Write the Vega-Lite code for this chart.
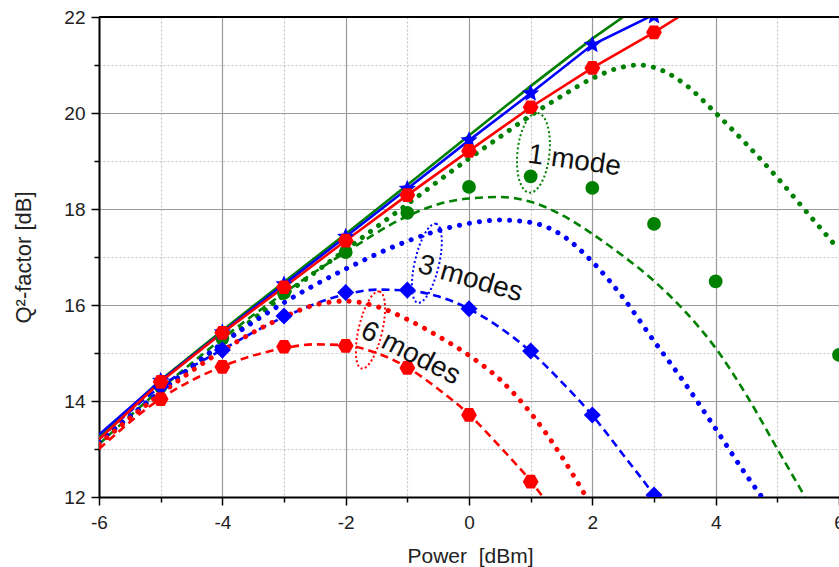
{
  "$schema": "https://vega.github.io/schema/vega-lite/v6.json",
  "width": 740,
  "height": 480,
  "autosize": {"type": "none"},
  "padding": {"left": 99, "top": 17, "right": 0, "bottom": 70},
  "background": "white",
  "config": {"view": {"stroke": null}, "font": "Liberation Sans"},
  "datasets": {
    "curves": [
      {"modes": "1 mode", "kind": "solid", "x": -6, "y": 13.25},
      {"modes": "1 mode", "kind": "solid", "x": -5, "y": 14.44},
      {"modes": "1 mode", "kind": "solid", "x": -4, "y": 15.47},
      {"modes": "1 mode", "kind": "solid", "x": -3, "y": 16.48},
      {"modes": "1 mode", "kind": "solid", "x": -2, "y": 17.48},
      {"modes": "1 mode", "kind": "solid", "x": -1, "y": 18.5},
      {"modes": "1 mode", "kind": "solid", "x": 0, "y": 19.53},
      {"modes": "1 mode", "kind": "solid", "x": 1, "y": 20.56},
      {"modes": "1 mode", "kind": "solid", "x": 2, "y": 21.55},
      {"modes": "1 mode", "kind": "solid", "x": 2.5, "y": 22.0},
      {"modes": "3 modes", "kind": "solid", "x": -6, "y": 13.3},
      {"modes": "3 modes", "kind": "solid", "x": -5, "y": 14.42},
      {"modes": "3 modes", "kind": "solid", "x": -4, "y": 15.43},
      {"modes": "3 modes", "kind": "solid", "x": -3, "y": 16.43},
      {"modes": "3 modes", "kind": "solid", "x": -2, "y": 17.42},
      {"modes": "3 modes", "kind": "solid", "x": -1, "y": 18.42},
      {"modes": "3 modes", "kind": "solid", "x": 0, "y": 19.43},
      {"modes": "3 modes", "kind": "solid", "x": 1, "y": 20.41},
      {"modes": "3 modes", "kind": "solid", "x": 2, "y": 21.42},
      {"modes": "3 modes", "kind": "solid", "x": 3, "y": 22.05},
      {"modes": "6 modes", "kind": "solid", "x": -6, "y": 13.2},
      {"modes": "6 modes", "kind": "solid", "x": -5, "y": 14.4},
      {"modes": "6 modes", "kind": "solid", "x": -4, "y": 15.42},
      {"modes": "6 modes", "kind": "solid", "x": -3, "y": 16.37},
      {"modes": "6 modes", "kind": "solid", "x": -2, "y": 17.34},
      {"modes": "6 modes", "kind": "solid", "x": -1, "y": 18.29},
      {"modes": "6 modes", "kind": "solid", "x": 0, "y": 19.21},
      {"modes": "6 modes", "kind": "solid", "x": 1, "y": 20.12},
      {"modes": "6 modes", "kind": "solid", "x": 2, "y": 20.94},
      {"modes": "6 modes", "kind": "solid", "x": 3, "y": 21.68},
      {"modes": "6 modes", "kind": "solid", "x": 3.4, "y": 22.0},

      {"modes": "1 mode", "kind": "dashed", "x": -6, "y": 13.1},
      {"modes": "1 mode", "kind": "dashed", "x": -5, "y": 14.25},
      {"modes": "1 mode", "kind": "dashed", "x": -4, "y": 15.3},
      {"modes": "1 mode", "kind": "dashed", "x": -3, "y": 16.25},
      {"modes": "1 mode", "kind": "dashed", "x": -2, "y": 17.1},
      {"modes": "1 mode", "kind": "dashed", "x": -1, "y": 17.85},
      {"modes": "1 mode", "kind": "dashed", "x": -0.5, "y": 18.1},
      {"modes": "1 mode", "kind": "dashed", "x": 0, "y": 18.22},
      {"modes": "1 mode", "kind": "dashed", "x": 0.5, "y": 18.25},
      {"modes": "1 mode", "kind": "dashed", "x": 1, "y": 18.15},
      {"modes": "1 mode", "kind": "dashed", "x": 1.5, "y": 17.88},
      {"modes": "1 mode", "kind": "dashed", "x": 2, "y": 17.48},
      {"modes": "1 mode", "kind": "dashed", "x": 2.5, "y": 17.02},
      {"modes": "1 mode", "kind": "dashed", "x": 3, "y": 16.5},
      {"modes": "1 mode", "kind": "dashed", "x": 3.5, "y": 15.87},
      {"modes": "1 mode", "kind": "dashed", "x": 4, "y": 15.1},
      {"modes": "1 mode", "kind": "dashed", "x": 4.5, "y": 14.12},
      {"modes": "1 mode", "kind": "dashed", "x": 5, "y": 13.0},
      {"modes": "1 mode", "kind": "dashed", "x": 5.45, "y": 12.0},
      {"modes": "3 modes", "kind": "dashed", "x": -6, "y": 13.2},
      {"modes": "3 modes", "kind": "dashed", "x": -5, "y": 14.3},
      {"modes": "3 modes", "kind": "dashed", "x": -4, "y": 15.07},
      {"modes": "3 modes", "kind": "dashed", "x": -3, "y": 15.75},
      {"modes": "3 modes", "kind": "dashed", "x": -2, "y": 16.22},
      {"modes": "3 modes", "kind": "dashed", "x": -1.5, "y": 16.32},
      {"modes": "3 modes", "kind": "dashed", "x": -1, "y": 16.3},
      {"modes": "3 modes", "kind": "dashed", "x": -0.5, "y": 16.18},
      {"modes": "3 modes", "kind": "dashed", "x": 0, "y": 15.92},
      {"modes": "3 modes", "kind": "dashed", "x": 0.5, "y": 15.53},
      {"modes": "3 modes", "kind": "dashed", "x": 1, "y": 15.03},
      {"modes": "3 modes", "kind": "dashed", "x": 1.5, "y": 14.4},
      {"modes": "3 modes", "kind": "dashed", "x": 2, "y": 13.7},
      {"modes": "3 modes", "kind": "dashed", "x": 2.5, "y": 12.88},
      {"modes": "3 modes", "kind": "dashed", "x": 3, "y": 12.04},
      {"modes": "3 modes", "kind": "dashed", "x": 3.05, "y": 11.95},
      {"modes": "6 modes", "kind": "dashed", "x": -6, "y": 13.0},
      {"modes": "6 modes", "kind": "dashed", "x": -5, "y": 14.05},
      {"modes": "6 modes", "kind": "dashed", "x": -4, "y": 14.72},
      {"modes": "6 modes", "kind": "dashed", "x": -3, "y": 15.1},
      {"modes": "6 modes", "kind": "dashed", "x": -2.5, "y": 15.18},
      {"modes": "6 modes", "kind": "dashed", "x": -2, "y": 15.16},
      {"modes": "6 modes", "kind": "dashed", "x": -1.5, "y": 15.0},
      {"modes": "6 modes", "kind": "dashed", "x": -1, "y": 14.7},
      {"modes": "6 modes", "kind": "dashed", "x": -0.5, "y": 14.25},
      {"modes": "6 modes", "kind": "dashed", "x": 0, "y": 13.72},
      {"modes": "6 modes", "kind": "dashed", "x": 0.5, "y": 13.05},
      {"modes": "6 modes", "kind": "dashed", "x": 1, "y": 12.33},
      {"modes": "6 modes", "kind": "dashed", "x": 1.2, "y": 12.0},

      {"modes": "1 mode", "kind": "dotted", "x": -6, "y": 13.15},
      {"modes": "1 mode", "kind": "dotted", "x": -5, "y": 14.2},
      {"modes": "1 mode", "kind": "dotted", "x": -4, "y": 15.2},
      {"modes": "1 mode", "kind": "dotted", "x": -3, "y": 16.2},
      {"modes": "1 mode", "kind": "dotted", "x": -2, "y": 17.15},
      {"modes": "1 mode", "kind": "dotted", "x": -1, "y": 18.1},
      {"modes": "1 mode", "kind": "dotted", "x": 0, "y": 19.05},
      {"modes": "1 mode", "kind": "dotted", "x": 0.5, "y": 19.5},
      {"modes": "1 mode", "kind": "dotted", "x": 1, "y": 19.95},
      {"modes": "1 mode", "kind": "dotted", "x": 1.5, "y": 20.35},
      {"modes": "1 mode", "kind": "dotted", "x": 2, "y": 20.72},
      {"modes": "1 mode", "kind": "dotted", "x": 2.5, "y": 20.96},
      {"modes": "1 mode", "kind": "dotted", "x": 2.75, "y": 21.0},
      {"modes": "1 mode", "kind": "dotted", "x": 3, "y": 20.95},
      {"modes": "1 mode", "kind": "dotted", "x": 3.5, "y": 20.6},
      {"modes": "1 mode", "kind": "dotted", "x": 4, "y": 20.0},
      {"modes": "1 mode", "kind": "dotted", "x": 4.5, "y": 19.35},
      {"modes": "1 mode", "kind": "dotted", "x": 5, "y": 18.65},
      {"modes": "1 mode", "kind": "dotted", "x": 5.5, "y": 17.9},
      {"modes": "1 mode", "kind": "dotted", "x": 6, "y": 17.15},
      {"modes": "3 modes", "kind": "dotted", "x": -6, "y": 13.15},
      {"modes": "3 modes", "kind": "dotted", "x": -5, "y": 14.2},
      {"modes": "3 modes", "kind": "dotted", "x": -4, "y": 15.2},
      {"modes": "3 modes", "kind": "dotted", "x": -3, "y": 16.05},
      {"modes": "3 modes", "kind": "dotted", "x": -2, "y": 16.75},
      {"modes": "3 modes", "kind": "dotted", "x": -1, "y": 17.33},
      {"modes": "3 modes", "kind": "dotted", "x": -0.5, "y": 17.55},
      {"modes": "3 modes", "kind": "dotted", "x": 0, "y": 17.7},
      {"modes": "3 modes", "kind": "dotted", "x": 0.5, "y": 17.77},
      {"modes": "3 modes", "kind": "dotted", "x": 1, "y": 17.72},
      {"modes": "3 modes", "kind": "dotted", "x": 1.5, "y": 17.46},
      {"modes": "3 modes", "kind": "dotted", "x": 2, "y": 16.9},
      {"modes": "3 modes", "kind": "dotted", "x": 2.5, "y": 16.15},
      {"modes": "3 modes", "kind": "dotted", "x": 3, "y": 15.25},
      {"modes": "3 modes", "kind": "dotted", "x": 3.5, "y": 14.37},
      {"modes": "3 modes", "kind": "dotted", "x": 4, "y": 13.42},
      {"modes": "3 modes", "kind": "dotted", "x": 4.5, "y": 12.45},
      {"modes": "3 modes", "kind": "dotted", "x": 4.75, "y": 12.0},
      {"modes": "6 modes", "kind": "dotted", "x": -6, "y": 13.1},
      {"modes": "6 modes", "kind": "dotted", "x": -5, "y": 14.15},
      {"modes": "6 modes", "kind": "dotted", "x": -4, "y": 15.05},
      {"modes": "6 modes", "kind": "dotted", "x": -3, "y": 15.75},
      {"modes": "6 modes", "kind": "dotted", "x": -2.5, "y": 16.0},
      {"modes": "6 modes", "kind": "dotted", "x": -2, "y": 16.08},
      {"modes": "6 modes", "kind": "dotted", "x": -1.5, "y": 15.97},
      {"modes": "6 modes", "kind": "dotted", "x": -1, "y": 15.7},
      {"modes": "6 modes", "kind": "dotted", "x": -0.5, "y": 15.35},
      {"modes": "6 modes", "kind": "dotted", "x": 0, "y": 14.95},
      {"modes": "6 modes", "kind": "dotted", "x": 0.5, "y": 14.45},
      {"modes": "6 modes", "kind": "dotted", "x": 1, "y": 13.75},
      {"modes": "6 modes", "kind": "dotted", "x": 1.5, "y": 12.85},
      {"modes": "6 modes", "kind": "dotted", "x": 1.9, "y": 12.0}
    ],
    "points": [
      {"modes": "1 mode", "kind": "measured", "x": -5, "y": 14.3},
      {"modes": "1 mode", "kind": "measured", "x": -4, "y": 15.3},
      {"modes": "1 mode", "kind": "measured", "x": -3, "y": 16.25},
      {"modes": "1 mode", "kind": "measured", "x": -2, "y": 17.1},
      {"modes": "1 mode", "kind": "measured", "x": -1, "y": 17.92},
      {"modes": "1 mode", "kind": "measured", "x": 0, "y": 18.46},
      {"modes": "1 mode", "kind": "measured", "x": 1, "y": 18.68},
      {"modes": "1 mode", "kind": "measured", "x": 2, "y": 18.44},
      {"modes": "1 mode", "kind": "measured", "x": 3, "y": 17.69},
      {"modes": "1 mode", "kind": "measured", "x": 4, "y": 16.49},
      {"modes": "1 mode", "kind": "measured", "x": 6, "y": 14.96},
      {"modes": "3 modes", "kind": "measured", "x": -5, "y": 14.3},
      {"modes": "3 modes", "kind": "measured", "x": -4, "y": 15.06},
      {"modes": "3 modes", "kind": "measured", "x": -3, "y": 15.77},
      {"modes": "3 modes", "kind": "measured", "x": -2, "y": 16.26},
      {"modes": "3 modes", "kind": "measured", "x": -1, "y": 16.31},
      {"modes": "3 modes", "kind": "measured", "x": 0, "y": 15.92},
      {"modes": "3 modes", "kind": "measured", "x": 1, "y": 15.04},
      {"modes": "3 modes", "kind": "measured", "x": 2, "y": 13.71},
      {"modes": "3 modes", "kind": "measured", "x": 3, "y": 12.04},
      {"modes": "3 modes", "kind": "b2b", "x": -5, "y": 14.42},
      {"modes": "3 modes", "kind": "b2b", "x": -4, "y": 15.43},
      {"modes": "3 modes", "kind": "b2b", "x": -3, "y": 16.43},
      {"modes": "3 modes", "kind": "b2b", "x": -2, "y": 17.42},
      {"modes": "3 modes", "kind": "b2b", "x": -1, "y": 18.42},
      {"modes": "3 modes", "kind": "b2b", "x": 0, "y": 19.43},
      {"modes": "3 modes", "kind": "b2b", "x": 1, "y": 20.41},
      {"modes": "3 modes", "kind": "b2b", "x": 2, "y": 21.42},
      {"modes": "3 modes", "kind": "b2b", "x": 3, "y": 22.02},
      {"modes": "6 modes", "kind": "b2b", "x": -5, "y": 14.4},
      {"modes": "6 modes", "kind": "b2b", "x": -4, "y": 15.42},
      {"modes": "6 modes", "kind": "b2b", "x": -3, "y": 16.37},
      {"modes": "6 modes", "kind": "b2b", "x": -2, "y": 17.34},
      {"modes": "6 modes", "kind": "b2b", "x": -1, "y": 18.29},
      {"modes": "6 modes", "kind": "b2b", "x": 0, "y": 19.21},
      {"modes": "6 modes", "kind": "b2b", "x": 1, "y": 20.12},
      {"modes": "6 modes", "kind": "b2b", "x": 2, "y": 20.94},
      {"modes": "6 modes", "kind": "b2b", "x": 3, "y": 21.68},
      {"modes": "6 modes", "kind": "measured", "x": -5, "y": 14.04},
      {"modes": "6 modes", "kind": "measured", "x": -4, "y": 14.71},
      {"modes": "6 modes", "kind": "measured", "x": -3, "y": 15.13},
      {"modes": "6 modes", "kind": "measured", "x": -2, "y": 15.15},
      {"modes": "6 modes", "kind": "measured", "x": -1, "y": 14.69},
      {"modes": "6 modes", "kind": "measured", "x": 0, "y": 13.71},
      {"modes": "6 modes", "kind": "measured", "x": 1, "y": 12.32}
    ],
    "labels": [
      {"label": "1 mode", "x": 1.71, "y": 19.0},
      {"label": "3 modes", "x": 0.02, "y": 16.54},
      {"label": "6 modes", "x": -0.95, "y": 14.99}
    ],
    "ellipses": [
      {"modes": "1 mode", "x": 1.045, "y": 19.17},
      {"modes": "3 modes", "x": -0.683, "y": 16.87},
      {"modes": "6 modes", "x": -1.598, "y": 15.48}
    ],
    "frame": [
      {"x": -6, "y": 22},
      {"x": 6, "y": 22}
    ]
  },
  "encoding": {
    "x": {
      "field": "x", "type": "quantitative",
      "scale": {"domain": [-6, 6], "nice": false, "zero": false},
      "axis": {
        "values": [-6, -5, -4, -3, -2, -1, 0, 1, 2, 3, 4, 5, 6],
        "labelExpr": "datum.value % 2 === 0 ? '' + datum.value : ''",
        "labelFlush": false, "labelOverlap": false,
        "grid": true,
        "gridColor": {"condition": {"test": "datum.value % 2 !== 0", "value": "#c4c4c4"}, "value": "#9a9a9a"},
        "gridDash": {"condition": {"test": "datum.value % 2 !== 0", "value": [2, 2]}, "value": []},
        "gridWidth": 1.2,
        "domainColor": "#000000", "domainWidth": 2,
        "tickColor": "#000000", "tickWidth": 1.5,
        "tickSize": {"condition": {"test": "datum.value % 2 !== 0", "value": 5}, "value": 8},
        "labelFontSize": 19, "labelColor": "#222222", "labelPadding": 8,
        "title": "Power\u00a0 [dBm]", "titleFontSize": 21, "titleFontWeight": "normal", "titleColor": "#222222",
        "titleX": 371, "titleY": 65, "titleBaseline": "alphabetic", "titleAlign": "center"
      }
    },
    "y": {
      "field": "y", "type": "quantitative",
      "scale": {"domain": [12, 22], "nice": false, "zero": false},
      "axis": {
        "values": [12, 13, 14, 15, 16, 17, 18, 19, 20, 21, 22],
        "labelExpr": "datum.value % 2 === 0 ? '' + datum.value : ''",
        "labelFlush": false, "labelOverlap": false,
        "grid": true,
        "gridColor": {"condition": {"test": "datum.value % 2 !== 0", "value": "#c4c4c4"}, "value": "#9a9a9a"},
        "gridDash": {"condition": {"test": "datum.value % 2 !== 0", "value": [2, 2]}, "value": []},
        "gridWidth": 1.2,
        "domainColor": "#000000", "domainWidth": 2,
        "tickColor": "#000000", "tickWidth": 1.5,
        "tickSize": {"condition": {"test": "datum.value % 2 !== 0", "value": 5}, "value": 8},
        "labelFontSize": 19, "labelColor": "#222222", "labelPadding": 6,
        "title": "Q²-factor [dB]", "titleFontSize": 22, "titleFontWeight": "normal", "titleColor": "#222222",
        "titleX": -69, "titleY": 240, "titleAngle": -90, "titleBaseline": "alphabetic", "titleAlign": "center"
      }
    },
    "color": {
      "field": "modes", "type": "nominal",
      "scale": {"domain": ["1 mode", "3 modes", "6 modes"], "range": ["#008000", "#0000ff", "#ff0000"]},
      "legend": null
    }
  },
  "layer": [
    {
      "data": {"name": "curves"},
      "transform": [{"filter": "datum.kind === 'dashed'"}],
      "mark": {"type": "line", "clip": true, "interpolate": "monotone", "strokeWidth": 2.6, "strokeDash": [8, 5]}
    },
    {
      "data": {"name": "curves"},
      "transform": [{"filter": "datum.kind === 'dotted'"}],
      "mark": {"type": "line", "clip": true, "interpolate": "monotone", "strokeWidth": 5, "strokeDash": [0.1, 10], "strokeCap": "round"}
    },
    {
      "data": {"name": "curves"},
      "transform": [{"filter": "datum.kind === 'solid'"}],
      "mark": {"type": "line", "clip": true, "interpolate": "linear", "strokeWidth": 2.6}
    },
    {
      "data": {"name": "points"},
      "transform": [{"filter": "datum.modes === '1 mode'"}],
      "mark": {"type": "point", "clip": true, "shape": "circle", "filled": true, "opacity": 1, "size": 190}
    },
    {
      "data": {"name": "points"},
      "transform": [{"filter": "datum.modes === '3 modes' && datum.kind === 'measured'"}],
      "mark": {"type": "point", "clip": true, "shape": "diamond", "filled": true, "opacity": 1, "size": 290}
    },
    {
      "data": {"name": "points"},
      "transform": [{"filter": "datum.modes === '3 modes' && datum.kind === 'b2b'"}],
      "mark": {"type": "point", "clip": true, "shape": "M0,-1L0.2645,-0.364L0.951,-0.309L0.428,0.139L0.588,0.809L0,0.45L-0.588,0.809L-0.428,0.139L-0.951,-0.309L-0.2645,-0.364Z", "filled": true, "opacity": 1, "size": 330}
    },
    {
      "data": {"name": "points"},
      "transform": [{"filter": "datum.modes === '6 modes'"}],
      "mark": {"type": "point", "clip": true, "shape": "M-1,0L-0.5,-0.866L0.5,-0.866L1,0L0.5,0.866L-0.5,0.866Z", "filled": true, "opacity": 1, "size": 250}
    },
    {
      "data": {"name": "ellipses"},
      "transform": [{"filter": "datum.modes === '1 mode'"}],
      "mark": {"type": "point", "shape": "M0,-1A0.4,1 0 1,1 0,1A0.4,1 0 1,1 0,-1Z", "filled": false, "opacity": 1, "strokeWidth": 2, "strokeDash": [2, 2.5], "size": 6400, "angle": 6}
    },
    {
      "data": {"name": "ellipses"},
      "transform": [{"filter": "datum.modes === '3 modes'"}],
      "mark": {"type": "point", "shape": "M0,-1A0.3,1 0 1,1 0,1A0.3,1 0 1,1 0,-1Z", "filled": false, "opacity": 1, "strokeWidth": 2, "strokeDash": [2, 2.5], "size": 6560, "angle": 13}
    },
    {
      "data": {"name": "ellipses"},
      "transform": [{"filter": "datum.modes === '6 modes'"}],
      "mark": {"type": "point", "shape": "M0,-1A0.3,1 0 1,1 0,1A0.3,1 0 1,1 0,-1Z", "filled": false, "opacity": 1, "strokeWidth": 2, "strokeDash": [2, 2.5], "size": 6240, "angle": 13}
    },
    {
      "data": {"name": "labels"},
      "transform": [{"filter": "datum.label === '1 mode'"}],
      "mark": {"type": "text", "fontSize": 28, "angle": 8, "align": "center", "baseline": "middle"},
      "encoding": {"text": {"field": "label"}, "color": {"value": "#111111"}}
    },
    {
      "data": {"name": "labels"},
      "transform": [{"filter": "datum.label === '3 modes'"}],
      "mark": {"type": "text", "fontSize": 28, "angle": 16, "align": "center", "baseline": "middle"},
      "encoding": {"text": {"field": "label"}, "color": {"value": "#111111"}}
    },
    {
      "data": {"name": "labels"},
      "transform": [{"filter": "datum.label === '6 modes'"}],
      "mark": {"type": "text", "fontSize": 28, "angle": 27, "align": "center", "baseline": "middle"},
      "encoding": {"text": {"field": "label"}, "color": {"value": "#111111"}}
    },
    {
      "data": {"name": "frame"},
      "mark": {"type": "line", "strokeWidth": 2},
      "encoding": {"color": {"value": "#000000"}}
    }
  ]
}
